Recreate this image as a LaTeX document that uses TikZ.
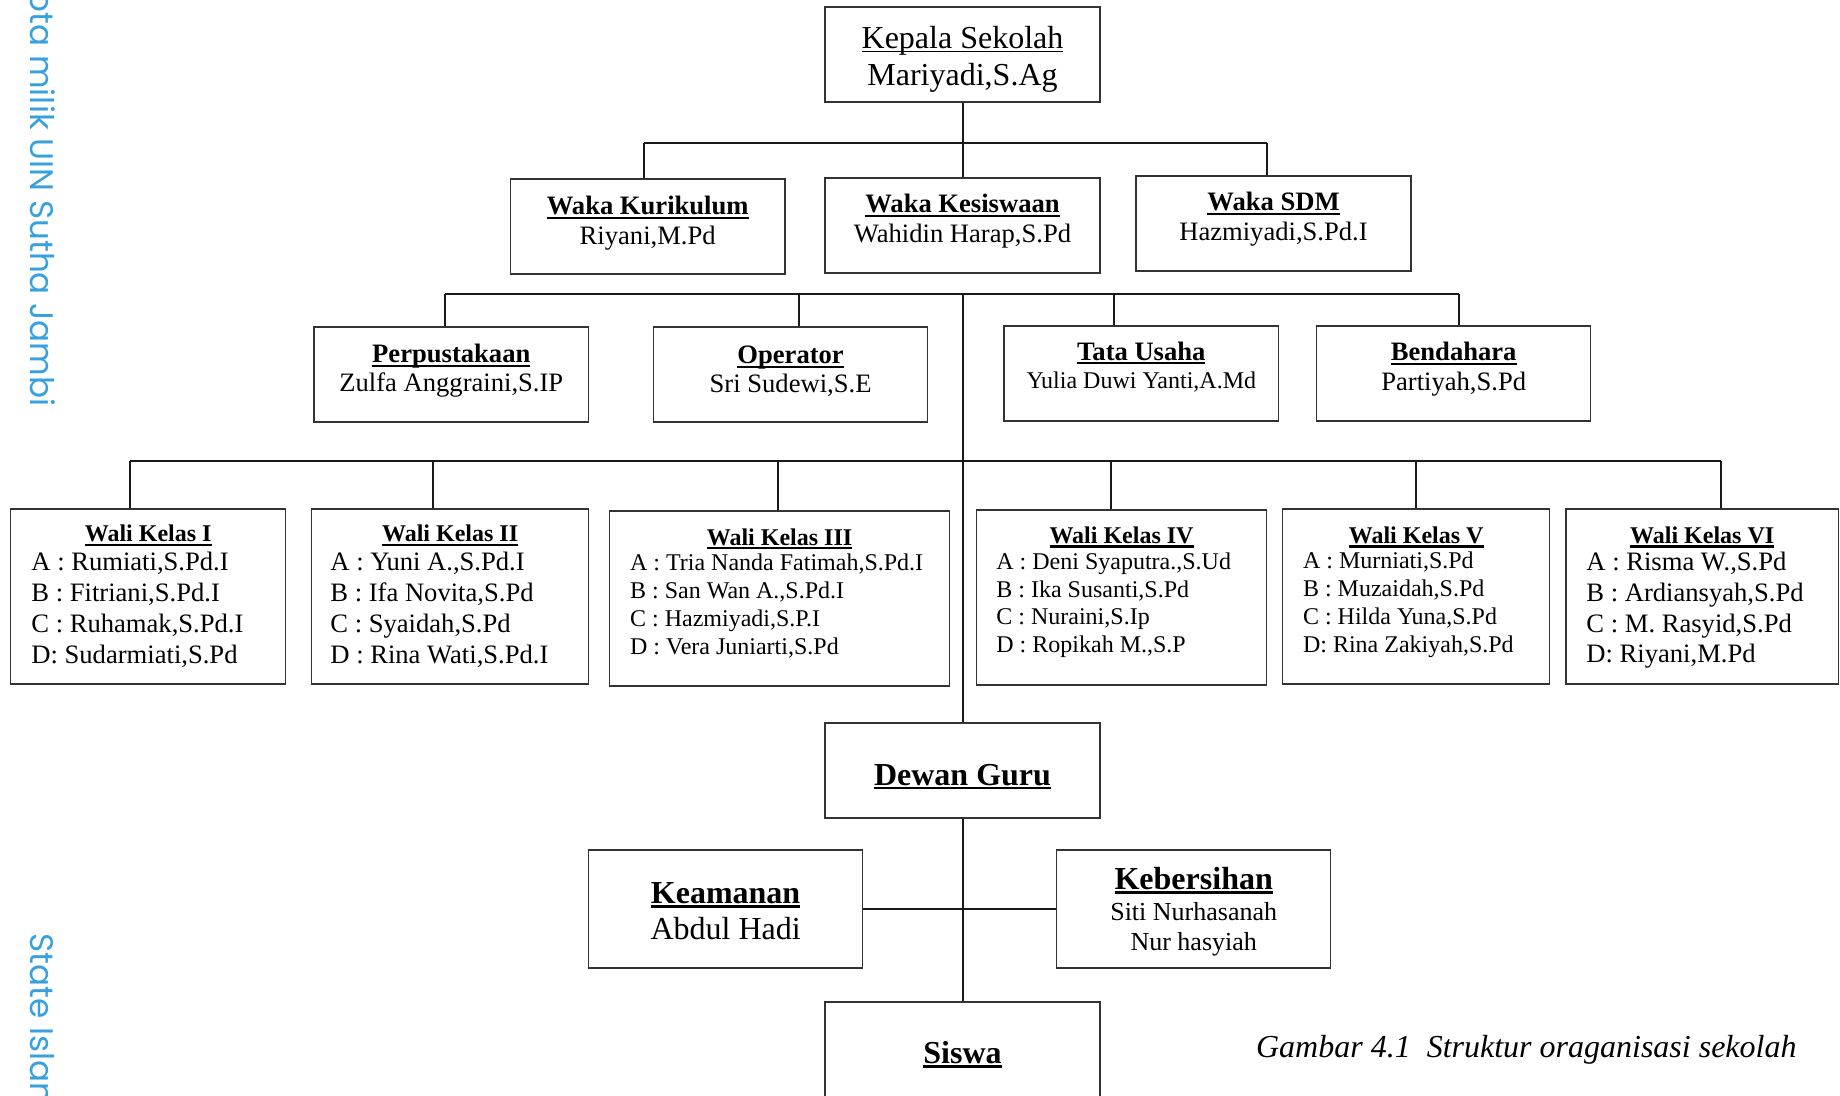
\documentclass[tikz,border=0pt]{standalone}
\usepackage{fontspec}
\setmainfont{Liberation Serif}
\newfontfamily\wmfont{Poppins}
\usetikzlibrary{fit}
\definecolor{wm}{RGB}{55,160,222}
\newsavebox\ulbox
\newcommand\ulb[1]{\sbox\ulbox{#1}\rlap{\rule[-2.1pt]{\wd\ulbox}{1.1pt}}\usebox\ulbox}
\newcommand\ulr[1]{\sbox\ulbox{#1}\rlap{\rule[-1.7pt]{\wd\ulbox}{0.6pt}}\usebox\ulbox}
\newcommand\fsz[1]{\fontsize{#1}{#1}\selectfont}
\newcommand\lstl[2]{\vtop{\baselineskip=#1\lineskiplimit=-100pt\lineskip=0pt\halign{##\hfil\cr#2\crcr}}}
\newcommand\lstc[2]{\vtop{\baselineskip=#1\lineskiplimit=-100pt\lineskip=0pt\halign{\hfil##\hfil\cr#2\crcr}}}
\tikzset{
  box/.style={draw=black!80, line width=0.65pt, inner sep=0pt},
  txt/.style={inner sep=0pt, anchor=base},
  lft/.style={inner sep=0pt, anchor=base west},
  conn/.style={line width=1pt, draw=black!90},
}
\begin{document}
\begin{tikzpicture}[x=0.5pt,y=-0.5pt]
\path[use as bounding box, clip] (0,0) rectangle (1840,1096);

% watermark
\node[rotate=-90, anchor=base east, inner sep=0pt, text=wm, font=\wmfont\fsz{16.3pt}] (wm1) at (31,407) {ota milik UIN Sutha Jambi};
\node[rotate=-90, anchor=base west, inner sep=0pt, text=wm, font=\wmfont\fsz{16.3pt}] (wm2) at (31,933) {State Islan};

% boxes
\node[box, fit={(825,7) (1100,102)}] (kepala) {};
\node[box, fit={(510.5,179) (785,274)}] (kurikulum) {};
\node[box, fit={(825,178) (1100,273)}] (kesiswaan) {};
\node[box, fit={(1136,176) (1411,271)}] (sdm) {};
\node[box, fit={(314,327) (588.6,422)}] (perpus) {};
\node[box, fit={(653.7,327) (927.6,422)}] (operator) {};
\node[box, fit={(1004,326) (1278.6,421)}] (tu) {};
\node[box, fit={(1316.7,326) (1590.8,421)}] (bendahara) {};
\node[box, fit={(10.6,509) (285.8,684)}] (w1) {};
\node[box, fit={(311.6,509) (588.6,684)}] (w2) {};
\node[box, fit={(609.7,511) (949.3,686)}] (w3) {};
\node[box, fit={(976.3,510) (1266.8,685)}] (w4) {};
\node[box, fit={(1282.7,509) (1549.7,684)}] (w5) {};
\node[box, fit={(1566,509) (1838.4,684)}] (w6) {};
\node[box, fit={(825,723) (1100,818)}] (dewan) {};
\node[box, fit={(588.6,850) (862.7,968)}] (keamanan) {};
\node[box, fit={(1056.7,850) (1330.8,968)}] (kebersihan) {};
\node[box, fit={(825,1002) (1100,1100)}] (siswa) {};

% texts
\node[txt] (t-kepala) at (962.5,48.5) {\fsz{16pt}\lstc{18.3pt}{\ulr{Kepala Sekolah}\cr Mariyadi,S.Ag}};
\node[txt] (t-kur) at (647.7,215) {\fsz{13.3pt}\lstc{14.6pt}{\textbf{\ulb{Waka Kurikulum}}\cr Riyani,M.Pd}};
\node[txt] (t-kes) at (962.5,213) {\fsz{13.3pt}\lstc{15pt}{\textbf{\ulb{Waka Kesiswaan}}\cr Wahidin Harap,S.Pd}};
\node[txt] (t-sdm) at (1273.5,210.7) {\fsz{13.3pt}\lstc{15pt}{\textbf{\ulb{Waka SDM}}\cr Hazmiyadi,S.Pd.I}};
\node[txt] (t-per) at (451.3,363) {\fsz{13.3pt}\lstc{14.4pt}{\textbf{\ulb{Perpustakaan}}\cr Zulfa Anggraini,S.IP}};
\node[txt] (t-op) at (790.6,364) {\fsz{13.3pt}\lstc{14.4pt}{\textbf{\ulb{Operator}}\cr Sri Sudewi,S.E}};
\node[txt] (t-tu) at (1141.3,360) {\fsz{13.3pt}\lstc{14.2pt}{\textbf{\ulb{Tata Usaha}}\cr \fsz{12pt}Yulia Duwi Yanti,A.Md}};
\node[txt] (t-ben) at (1453.7,361) {\fsz{13.3pt}\lstc{15pt}{\textbf{\ulb{Bendahara}}\cr Partiyah,S.Pd}};

\node[txt] (h1) at (148.2,541.7) {\fsz{12pt}\textbf{\ulb{Wali Kelas I}}};
\node[lft] (l1) at (31,570.7) {\fsz{13.3pt}\lstl{15.45pt}{A : Rumiati,S.Pd.I\cr B : Fitriani,S.Pd.I\cr C : Ruhamak,S.Pd.I\cr D: Sudarmiati,S.Pd}};
\node[txt] (h2) at (450.1,541.7) {\fsz{12pt}\textbf{\ulb{Wali Kelas II}}};
\node[lft] (l2) at (330,570.7) {\fsz{13.3pt}\lstl{15.45pt}{A : Yuni A.,S.Pd.I\cr B : Ifa Novita,S.Pd\cr C : Syaidah,S.Pd\cr D : Rina Wati,S.Pd.I}};
\node[txt] (h3) at (779.5,545) {\fsz{12pt}\textbf{\ulb{Wali Kelas III}}};
\node[lft] (l3) at (629.7,570) {\fsz{12pt}\lstl{14.15pt}{A : Tria Nanda Fatimah,S.Pd.I\cr B : San Wan A.,S.Pd.I\cr C : Hazmiyadi,S.P.I\cr D : Vera Juniarti,S.Pd}};
\node[txt] (h4) at (1121.5,543.3) {\fsz{12pt}\textbf{\ulb{Wali Kelas IV}}};
\node[lft] (l4) at (996,569.3) {\fsz{12pt}\lstl{13.9pt}{A : Deni Syaputra.,S.Ud\cr B : Ika Susanti,S.Pd\cr C : Nuraini,S.Ip\cr D : Ropikah M.,S.P}};
\node[txt] (h5) at (1416.2,543.3) {\fsz{12pt}\textbf{\ulb{Wali Kelas V}}};
\node[lft] (l5) at (1302.6,568.3) {\fsz{12pt}\lstl{14.05pt}{A : Murniati,S.Pd\cr B : Muzaidah,S.Pd\cr C : Hilda Yuna,S.Pd\cr D: Rina Zakiyah,S.Pd}};
\node[txt] (h6) at (1702.2,543.3) {\fsz{12pt}\textbf{\ulb{Wali Kelas VI}}};
\node[lft] (l6) at (1586,570.7) {\fsz{13.3pt}\lstl{15.35pt}{A : Risma W.,S.Pd\cr B : Ardiansyah,S.Pd\cr C : M. Rasyid,S.Pd\cr D: Riyani,M.Pd}};

\node[txt] (t-dewan) at (962.5,785) {\fsz{16pt}\textbf{\ulb{Dewan Guru}}};
\node[txt] (t-keam) at (725.6,903.3) {\fsz{16pt}\lstc{18pt}{\textbf{\ulb{Keamanan}}\cr Abdul Hadi}};
\node[txt] (t-keb) at (1193.7,889.3) {\lstc{15.4pt}{\fsz{16pt}\textbf{\ulb{Kebersihan}}\cr \fsz{13pt}Siti Nurhasanah\cr \fsz{13pt}Nur hasyiah}};
\node[txt] (t-siswa) at (962.5,1063.3) {\fsz{16pt}\textbf{\ulb{Siswa}}};

\node[lft] (caption) at (1255.7,1057) {\fsz{16pt}\itshape Gambar 4.1\ \ Struktur oraganisasi sekolah};

% connectors
\coordinate (bus1) at (962.5,143);
\coordinate (a1) at (644,143);
\coordinate (a3) at (1267,143);
\draw[conn] (kepala.south) -- (kesiswaan.north);
\draw[conn] (a1) -- (a3);
\draw[conn] (a1) -- (a1 |- kurikulum.north);
\draw[conn] (a3) -- (a3 |- sdm.north);

\coordinate (b2l) at (445,294);
\coordinate (b2o) at (799,294);
\coordinate (b2c) at (962.5,294);
\coordinate (b2t) at (1114,294);
\coordinate (b2r) at (1459,294);
\draw[conn] (b2l) -- (b2r);
\draw[conn] (b2l) -- (b2l |- perpus.north);
\draw[conn] (b2o) -- (b2o |- operator.north);
\draw[conn] (b2t) -- (b2t |- tu.north);
\draw[conn] (b2r) -- (b2r |- bendahara.north);
\draw[conn] (b2c) -- (dewan.north);

\coordinate (c1) at (130,461);
\coordinate (c2) at (432.5,461);
\coordinate (c3) at (777.6,461);
\coordinate (c4) at (1110.7,461);
\coordinate (c5) at (1416,461);
\coordinate (c6) at (1721,461);
\draw[conn] (c1) -- (c6);
\draw[conn] (c1) -- (c1 |- w1.north);
\draw[conn] (c2) -- (c2 |- w2.north);
\draw[conn] (c3) -- (c3 |- w3.north);
\draw[conn] (c4) -- (c4 |- w4.north);
\draw[conn] (c5) -- (c5 |- w5.north);
\draw[conn] (c6) -- (c6 |- w6.north);

\draw[conn] (dewan.south) -- (siswa.north);
\draw[conn] (keamanan.east) -- (kebersihan.west);
\end{tikzpicture}
\end{document}
